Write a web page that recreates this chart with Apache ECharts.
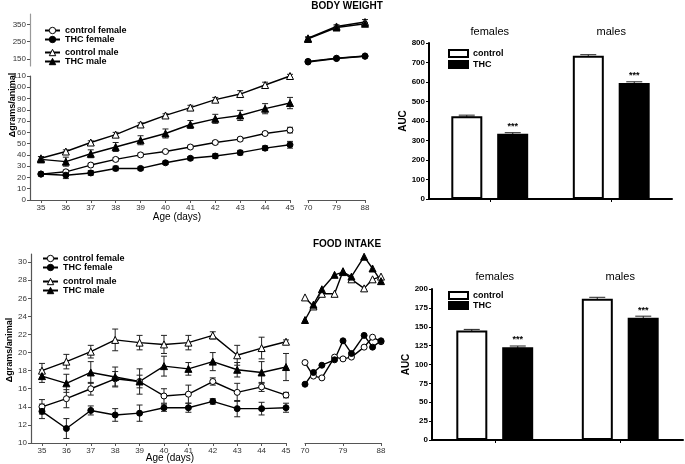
<!DOCTYPE html>
<html>
<head>
<meta charset="utf-8">
<script src="https://cdn.jsdelivr.net/npm/echarts@6/dist/echarts.min.js"></script>
<style>
  html, body { margin: 0; padding: 0; background: #fff; }
  #chart-container { width: 685px; height: 464px; }
</style>
</head>
<body>
<div id="chart-container"></div>
<script>
// body weight, days 35-45
const bwDays = [35, 36, 37, 38, 39, 40, 41, 42, 43, 44, 45];
const bwCtrlF = [23, 25, 31, 36, 40, 43, 47, 51, 54, 59, 62];
const bwCtrlFErr = [1.5, 1.5, 1.5, 1.5, 1.5, 1, 1.5, 1.5, 1.5, 1.5, 2.5];
const bwThcF = [23, 22, 24, 28, 28, 33, 37, 39, 42, 46, 49];
const bwThcFErr = [1.5, 3, 2, 2, 1.5, 1.5, 1.5, 2, 2, 2, 3];
const bwCtrlM = [37, 43, 51, 58, 67, 75, 82, 89, 94, 102, 110];
const bwCtrlMErr = [1.5, 1.5, 1.5, 2, 1.5, 1.5, 2, 2, 3, 2.5, 1.5];
const bwThcM = [36, 34, 41, 47, 53, 59, 67, 72, 75, 81, 86];
const bwThcMErr = [2.5, 4, 3.5, 4, 4, 4, 3.5, 4, 4.5, 4.5, 5];

// body weight, days 70-88
const bwLateDays = [70, 79, 88];
const bwLateCtrlF = [137, 155, 168];
const bwLateThcF = [133, 153, 166];
const bwLateCtrlM = [270, 338, 364];
const bwLateCtrlMErr = [6, 10, 14];
const bwLateThcM = [266, 332, 354];
const bwLateThcMErr = [12, 8, 8];

// food intake, days 35-45
const fiDays = [35, 36, 37, 38, 39, 40, 41, 42, 43, 44, 45];
const fiCtrlF = [14.0, 14.9, 16.0, 17.1, 16.8, 15.2, 15.4, 16.8, 15.6, 16.2, 15.3];
const fiCtrlFErr = [0.8, 1.0, 0.7, 0.8, 0.7, 0.8, 1.0, 0.4, 1.0, 0.5, 0.3];
const fiThcF = [13.5, 11.6, 13.6, 13.1, 13.3, 13.9, 13.9, 14.6, 13.8, 13.8, 13.9];
const fiThcFErr = [0.8, 1.1, 0.5, 0.7, 0.9, 0.4, 0.5, 0.3, 0.9, 0.7, 0.5];
const fiCtrlM = [18.0, 19.0, 20.1, 21.4, 21.1, 20.9, 21.1, 21.9, 19.7, 20.5, 21.2];
const fiCtrlMErr = [0.8, 0.8, 0.7, 1.2, 0.8, 1.0, 0.8, 0.4, 1.1, 1.2, 0.2];
const fiThcM = [17.4, 16.6, 17.8, 17.3, 16.8, 18.5, 18.2, 19.0, 18.1, 17.8, 18.4];
const fiThcMErr = [0.7, 1.0, 1.2, 1.1, 1.4, 1.1, 0.7, 1.0, 0.8, 1.2, 1.5];

// food intake, days 70-88
const fiLateDays = [70, 72, 74, 77, 79, 81, 84, 86, 88];
const fiLateCtrlF = [18.9, 17.4, 17.2, 19.5, 19.3, 19.5, 20.6, 21.7, 21.2];
const fiLateThcF = [16.5, 17.8, 18.6, 19.2, 21.3, 19.9, 21.9, 20.6, 21.3];
const fiLateCtrlM = [26.1, 25.1, 26.5, 26.5, 29.0, 28.1, 27.1, 28.1, 28.4];
const fiLateThcM = [23.6, 25.3, 27.0, 28.6, 28.9, 28.4, 30.6, 29.3, 27.9];

// AUC bars
const aucGroups = ['females', 'males'];
const bwAucCtrl = [425, 735];
const bwAucCtrlErr = [5, 5];
const bwAucThc = [335, 595];
const bwAucThcErr = [5, 6];
const fiAucCtrl = [145, 187];
const fiAucCtrlErr = [1.5, 2];
const fiAucThc = [123, 162];
const fiAucThcErr = [1.5, 2];

const bwYTicks = [150, 250, 350];
const fiYTicks = [10, 12, 14, 16, 18, 20, 22, 24, 26, 28, 30];
const lateTicks = [70, 79, 88];

const font = 'Liberation Sans';

function pts(xs, ys) {
  return xs.map((x, i) => [x, ys[i]]);
}
function errPts(xs, ys, es) {
  return xs.map((x, i) => [x, ys[i], es[i]]);
}

function errRender(dx, cap) {
  return function (params, api) {
    const x = api.value(0), y = api.value(1), e = api.value(2);
    const hi = api.coord([x, y + e]);
    const lo = api.coord([x, y - e]);
    hi[0] += dx; lo[0] += dx;
    const style = { stroke: '#222', lineWidth: 1 };
    return {
      type: 'group',
      children: [
        { type: 'line', shape: { x1: hi[0], y1: hi[1], x2: lo[0], y2: lo[1] }, style: style },
        { type: 'line', shape: { x1: hi[0] - cap, y1: hi[1], x2: hi[0] + cap, y2: hi[1] }, style: style },
        { type: 'line', shape: { x1: lo[0] - cap, y1: lo[1], x2: lo[0] + cap, y2: lo[1] }, style: style }
      ]
    };
  };
}

function errSeries(xi, yi, data, dx, cap) {
  return {
    type: 'custom', xAxisIndex: xi, yAxisIndex: yi, data: data,
    renderItem: errRender(dx || 0, cap || 3), z: 2, silent: true
  };
}

function lineSeries(name, xi, yi, data, open, tri) {
  return {
    name: name, type: 'line', xAxisIndex: xi, yAxisIndex: yi, data: data,
    symbol: tri ? 'triangle' : 'circle', symbolSize: tri ? 7 : 6, showSymbol: true,
    lineStyle: { color: '#000', width: 1.4 },
    itemStyle: { color: open ? '#fff' : '#000', borderColor: '#000', borderWidth: 1 },
    z: 3, emphasis: { disabled: true }
  };
}

function barSeries(name, xi, yi, data, open, stars) {
  return {
    name: name, type: 'bar', xAxisIndex: xi, yAxisIndex: yi, data: data,
    barWidth: 31, barGap: '48%',
    itemStyle: { color: open ? '#fff' : '#000', borderColor: '#000', borderWidth: 2 },
    label: {
      show: stars, position: 'top', distance: 3, formatter: '***',
      fontSize: 9, fontWeight: 'bold', color: '#000', fontFamily: font
    },
    emphasis: { disabled: true }
  };
}

const lineAxis = { show: true, onZero: false, lineStyle: { color: '#555', width: 1.2 } };
const lineTick = { show: true, length: 3, lineStyle: { color: '#555' } };
const lineLabel = { fontSize: 8, color: '#333', margin: 4, fontFamily: font };
const barAxis = { show: true, onZero: false, lineStyle: { color: '#000', width: 2 } };
const barLabel = { fontSize: 8, color: '#000', fontWeight: 'bold', margin: 4, fontFamily: font };
const lineLegendText = { fontSize: 9, fontWeight: 'bold', lineHeight: 8, color: '#000' };
const lineLegendItem = { borderWidth: 1, borderColor: '#000' };

var dom = document.getElementById('chart-container');
var myChart = echarts.init(dom, null, { renderer: 'canvas' });

var option = {
  animation: false,
  backgroundColor: '#fff',
  textStyle: { fontFamily: font },
  grid: [
    { left: 30, top: 76, width: 260, height: 124 },   // bw 35-45
    { left: 30, top: 14, width: 260, height: 52 },    // bw upper break
    { left: 308, top: 14, width: 57, height: 186 },   // bw 70-88
    { left: 429, top: 43, width: 243, height: 156 },  // bw auc
    { left: 31, top: 254, width: 255, height: 189 },  // fi 35-45
    { left: 305, top: 254, width: 76, height: 189 },  // fi 70-88
    { left: 432, top: 289, width: 251, height: 151 }  // fi auc
  ],
  xAxis: [
    { gridIndex: 0, type: 'value', min: 34.56, max: 45, axisLine: lineAxis,
      axisTick: Object.assign({ customValues: bwDays }, lineTick),
      axisLabel: Object.assign({ customValues: bwDays }, lineLabel), splitLine: { show: false } },
    { gridIndex: 1, type: 'value', min: 34.56, max: 45, show: false },
    { gridIndex: 2, type: 'value', min: 70, max: 88, axisLine: lineAxis,
      axisTick: Object.assign({ customValues: lateTicks }, lineTick),
      axisLabel: Object.assign({ customValues: lateTicks }, lineLabel), splitLine: { show: false } },
    { gridIndex: 3, type: 'category', data: aucGroups, axisLine: barAxis,
      axisTick: { show: true, alignWithLabel: true, length: 3, lineStyle: { color: '#000' } },
      axisLabel: { show: false } },
    { gridIndex: 3, type: 'category', data: aucGroups, position: 'top',
      axisLine: { show: false }, axisTick: { show: false },
      axisLabel: { fontSize: 11, color: '#000', margin: 6, fontFamily: font } },
    { gridIndex: 4, type: 'value', min: 34.55, max: 45, axisLine: lineAxis,
      axisTick: Object.assign({ customValues: fiDays }, lineTick),
      axisLabel: Object.assign({ customValues: fiDays }, lineLabel), splitLine: { show: false } },
    { gridIndex: 5, type: 'value', min: 70, max: 88, axisLine: lineAxis,
      axisTick: Object.assign({ customValues: lateTicks }, lineTick),
      axisLabel: Object.assign({ customValues: lateTicks }, lineLabel), splitLine: { show: false } },
    { gridIndex: 6, type: 'category', data: aucGroups, axisLine: barAxis,
      axisTick: { show: true, alignWithLabel: true, length: 3, lineStyle: { color: '#000' } },
      axisLabel: { show: false } },
    { gridIndex: 6, type: 'category', data: aucGroups, position: 'top',
      axisLine: { show: false }, axisTick: { show: false },
      axisLabel: { fontSize: 11, color: '#000', margin: 7, fontFamily: font } }
  ],
  yAxis: [
    { gridIndex: 0, type: 'value', min: 0, max: 110, interval: 10, axisLine: lineAxis,
      axisTick: lineTick, axisLabel: lineLabel, splitLine: { show: false } },
    { gridIndex: 1, type: 'value', min: 110, max: 410,
      axisLine: { show: true, onZero: false, lineStyle: { color: '#999', width: 1.2 } },
      axisTick: Object.assign({ customValues: bwYTicks }, lineTick),
      axisLabel: Object.assign({ customValues: bwYTicks }, lineLabel), splitLine: { show: false } },
    { gridIndex: 2, type: 'value', min: -663, max: 410, show: false },
    { gridIndex: 3, type: 'value', min: 0, max: 800, interval: 100, axisLine: barAxis,
      axisTick: { show: true, length: 3, lineStyle: { color: '#000' } }, axisLabel: barLabel,
      splitLine: { show: false },
      name: 'AUC', nameLocation: 'middle', nameGap: 21,
      nameTextStyle: { fontSize: 10, fontWeight: 'bold', color: '#000', fontFamily: font } },
    { gridIndex: 4, type: 'value', min: 10, max: 30.9, axisLine: lineAxis,
      axisTick: Object.assign({ customValues: fiYTicks }, lineTick),
      axisLabel: Object.assign({ customValues: fiYTicks }, lineLabel), splitLine: { show: false } },
    { gridIndex: 5, type: 'value', min: 10, max: 30.9, show: false },
    { gridIndex: 6, type: 'value', min: 0, max: 200, interval: 25, axisLine: barAxis,
      axisTick: { show: true, length: 3, lineStyle: { color: '#000' } }, axisLabel: barLabel,
      splitLine: { show: false },
      name: 'AUC', nameLocation: 'middle', nameGap: 17,
      nameTextStyle: { fontSize: 10, fontWeight: 'bold', color: '#000', fontFamily: font } }
  ],
  legend: [
    { data: ['control female', 'THC female'], left: 44, top: 26, orient: 'vertical',
      itemGap: 0, itemWidth: 15, itemHeight: 8, padding: 0, selectedMode: false,
      itemStyle: lineLegendItem, textStyle: lineLegendText },
    { data: ['control male', 'THC male'], left: 44, top: 48, orient: 'vertical',
      itemGap: 0, itemWidth: 15, itemHeight: 8, padding: 0, selectedMode: false,
      itemStyle: lineLegendItem, textStyle: lineLegendText },
    { data: ['control', 'THC'], left: 448, top: 49, orient: 'vertical', icon: 'rect',
      itemGap: 2, itemWidth: 19, itemHeight: 7, padding: 0, selectedMode: false,
      textStyle: { fontSize: 9, fontWeight: 'bold', lineHeight: 7, color: '#000' } },
    { data: ['control female', 'THC female'], left: 42, top: 254, orient: 'vertical',
      itemGap: 0, itemWidth: 15, itemHeight: 8, padding: 0, selectedMode: false,
      itemStyle: lineLegendItem, textStyle: lineLegendText },
    { data: ['control male', 'THC male'], left: 42, top: 277, orient: 'vertical',
      itemGap: 0, itemWidth: 15, itemHeight: 8, padding: 0, selectedMode: false,
      itemStyle: lineLegendItem, textStyle: lineLegendText },
    { data: ['control', 'THC'], left: 448, top: 291, orient: 'vertical', icon: 'rect',
      itemGap: 1, itemWidth: 19, itemHeight: 7, padding: 0, selectedMode: false,
      textStyle: { fontSize: 9, fontWeight: 'bold', lineHeight: 7, color: '#000' } }
  ],
  graphic: [
    { type: 'text', x: 347, y: 6, style: { text: 'BODY WEIGHT', font: 'bold 10px Liberation Sans', align: 'center', verticalAlign: 'middle', fill: '#000' } },
    { type: 'text', x: 347, y: 244, style: { text: 'FOOD INTAKE', font: 'bold 10px Liberation Sans', align: 'center', verticalAlign: 'middle', fill: '#000' } },
    { type: 'text', x: 177, y: 217, style: { text: 'Age (days)', font: '10px Liberation Sans', align: 'center', verticalAlign: 'middle', fill: '#000' } },
    { type: 'text', x: 170, y: 458, style: { text: 'Age (days)', font: '10px Liberation Sans', align: 'center', verticalAlign: 'middle', fill: '#000' } },
    { type: 'text', x: 13, y: 105, rotation: Math.PI / 2, style: { text: 'Δgrams/animal', font: 'bold 9px Liberation Sans', align: 'center', verticalAlign: 'middle', fill: '#000' } },
    { type: 'text', x: 10, y: 350, rotation: Math.PI / 2, style: { text: 'Δgrams/animal', font: 'bold 9px Liberation Sans', align: 'center', verticalAlign: 'middle', fill: '#000' } }
  ],
  series: [
    // body weight 35-45
    errSeries(0, 0, errPts(bwDays, bwCtrlF, bwCtrlFErr)),
    errSeries(0, 0, errPts(bwDays, bwThcF, bwThcFErr)),
    errSeries(0, 0, errPts(bwDays, bwCtrlM, bwCtrlMErr)),
    errSeries(0, 0, errPts(bwDays, bwThcM, bwThcMErr)),
    lineSeries('control female', 0, 0, pts(bwDays, bwCtrlF), true, false),
    lineSeries('THC female', 0, 0, pts(bwDays, bwThcF), false, false),
    lineSeries('control male', 0, 0, pts(bwDays, bwCtrlM), true, true),
    lineSeries('THC male', 0, 0, pts(bwDays, bwThcM), false, true),
    // body weight 70-88
    errSeries(2, 2, errPts(bwLateDays, bwLateCtrlM, bwLateCtrlMErr)),
    errSeries(2, 2, errPts(bwLateDays, bwLateThcM, bwLateThcMErr)),
    lineSeries('control female', 2, 2, pts(bwLateDays, bwLateCtrlF), true, false),
    lineSeries('THC female', 2, 2, pts(bwLateDays, bwLateThcF), false, false),
    lineSeries('control male', 2, 2, pts(bwLateDays, bwLateCtrlM), true, true),
    lineSeries('THC male', 2, 2, pts(bwLateDays, bwLateThcM), false, true),
    // body weight AUC
    barSeries('control', 3, 3, bwAucCtrl, true, false),
    barSeries('THC', 3, 3, bwAucThc, false, true),
    errSeries(3, 3, errPts([0, 1], bwAucCtrl, bwAucCtrlErr), -23, 8),
    errSeries(3, 3, errPts([0, 1], bwAucThc, bwAucThcErr), 23, 8),
    // food intake 35-45
    errSeries(5, 4, errPts(fiDays, fiCtrlF, fiCtrlFErr)),
    errSeries(5, 4, errPts(fiDays, fiThcF, fiThcFErr)),
    errSeries(5, 4, errPts(fiDays, fiCtrlM, fiCtrlMErr)),
    errSeries(5, 4, errPts(fiDays, fiThcM, fiThcMErr)),
    lineSeries('control female', 5, 4, pts(fiDays, fiCtrlF), true, false),
    lineSeries('THC female', 5, 4, pts(fiDays, fiThcF), false, false),
    lineSeries('control male', 5, 4, pts(fiDays, fiCtrlM), true, true),
    lineSeries('THC male', 5, 4, pts(fiDays, fiThcM), false, true),
    // food intake 70-88
    lineSeries('control female', 6, 5, pts(fiLateDays, fiLateCtrlF), true, false),
    lineSeries('THC female', 6, 5, pts(fiLateDays, fiLateThcF), false, false),
    lineSeries('control male', 6, 5, pts(fiLateDays, fiLateCtrlM), true, true),
    lineSeries('THC male', 6, 5, pts(fiLateDays, fiLateThcM), false, true),
    // food intake AUC
    barSeries('control', 7, 6, fiAucCtrl, true, false),
    barSeries('THC', 7, 6, fiAucThc, false, true),
    errSeries(7, 6, errPts([0, 1], fiAucCtrl, fiAucCtrlErr), -23, 8),
    errSeries(7, 6, errPts([0, 1], fiAucThc, fiAucThcErr), 23, 8)
  ]
};

if (option && typeof option === 'object') {
  myChart.setOption(option);
}

window.addEventListener('resize', myChart.resize);
</script>
</body>
</html>
